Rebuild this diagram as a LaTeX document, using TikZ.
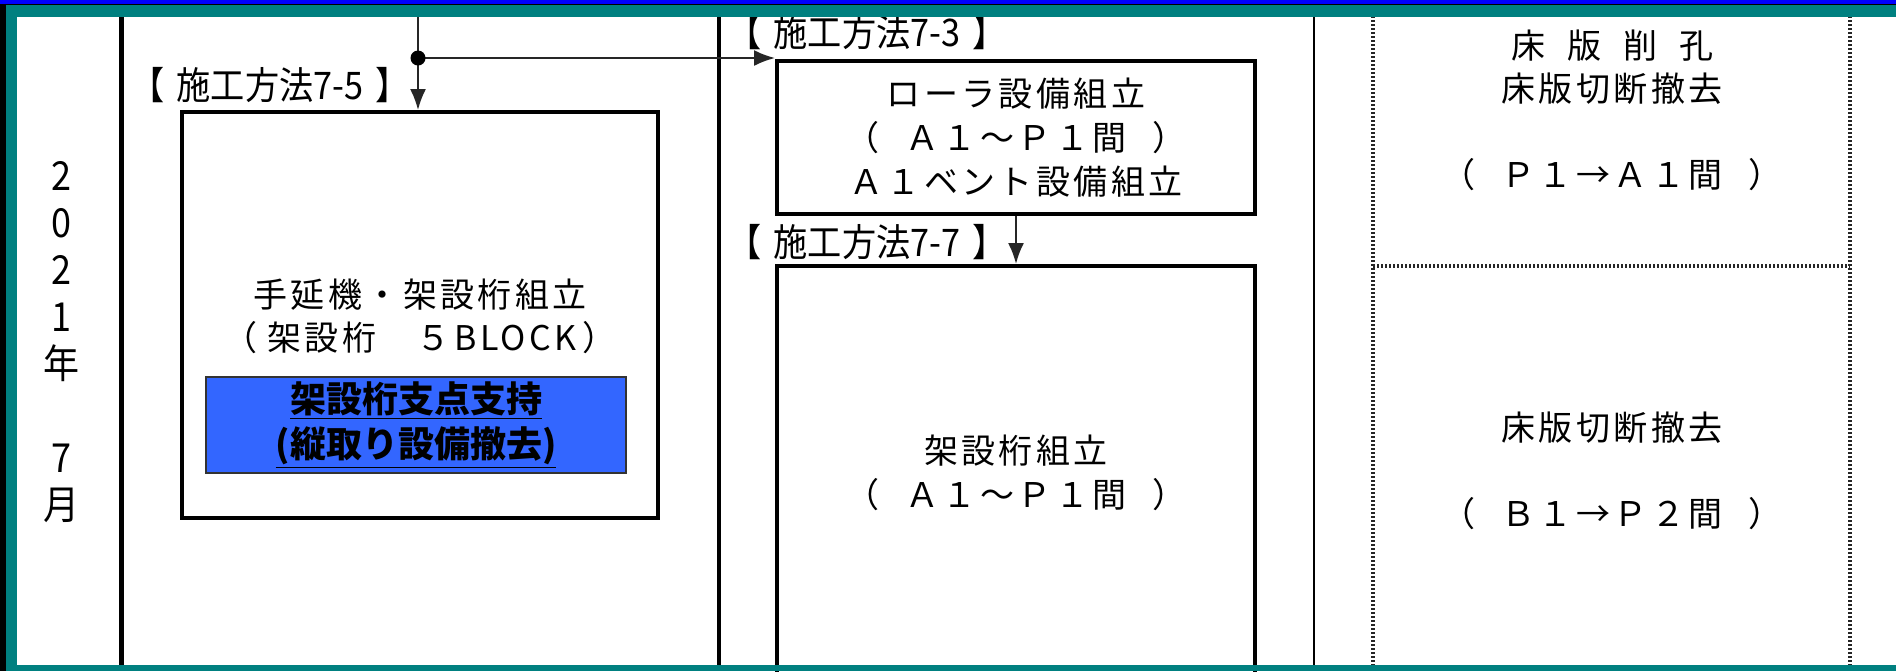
\documentclass[tikz,border=0pt]{standalone}
\usepackage{fontspec}
\setmainfont{Noto Sans CJK JP}
\newfontfamily\jpm[LetterSpace=10]{Noto Sans CJK JP}
\newfontfamily\jpc[FakeStretch=0.9]{Noto Sans CJK JP}
\usetikzlibrary{arrows.meta}
\definecolor{frameteal}{RGB}{0,128,128}
\definecolor{frameblue}{RGB}{0,0,255}
\definecolor{boxblue}{RGB}{51,102,255}
\newcommand{\mygap}{\hspace{13pt}}
\newcommand{\lblgap}{\hspace{6pt}}
\tikzset{
  stepbox/.style={draw, line width=2pt, inner sep=0pt, align=center,
    font=\jpm\fontsize{17}{22}\selectfont},
  mtxt/.style={inner sep=0pt, align=center, font=\jpm\fontsize{17}{21.5}\selectfont},
  lbl/.style={inner sep=0pt, font=\jpc\fontsize{19}{20}\selectfont},
  yeartxt/.style={inner sep=0pt, align=center, font=\jpc\fontsize{20}{23.5}\selectfont},
  bluebox/.style={draw=black!80, line width=0.75pt, fill=boxblue, inner sep=0pt,
    minimum width=210pt, minimum height=48pt, align=center,
    font=\bfseries\fontsize{18}{22.5}\selectfont},
  conn/.style={line width=1pt, black!85},
  arr/.style={conn, -{Latex[length=10.5pt,width=8pt]}},
  dotline/.style={line width=1.8pt, dash pattern=on 0.8pt off 1.2pt, black!85},
  thickline/.style={line width=2.4pt, black},
}
\begin{document}
\begin{tikzpicture}[x=0.5pt,y=-0.5pt]
\useasboundingbox (0,0) rectangle (1896,671);
\fill[white] (0,0) rectangle (1896,671);

% column lines
\coordinate (c1t) at (121.5,0); \coordinate (c1b) at (121.5,671);
\coordinate (c2t) at (719,0);   \coordinate (c2b) at (719,671);
\coordinate (c3t) at (1314,0);  \coordinate (c3b) at (1314,671);
\coordinate (d1t) at (1373,0);  \coordinate (d1b) at (1373,671);
\coordinate (d2t) at (1850,0);  \coordinate (d2b) at (1850,671);
\coordinate (dh1) at (1373,266); \coordinate (dh2) at (1850,266);
\draw[thickline] (c1t) -- (c1b);
\draw[line width=2pt] (c2t) -- (c2b);
\draw[line width=0.65pt] (c3t) -- (c3b);
\draw[dotline] (d1t) -- (d1b);
\draw[dotline] (d2t) -- (d2b);
\draw[dotline] (dh1) -- (dh2);

% year column
\node[yeartxt] (yr) at (61,342) {2\\0\\2\\1\\年\\\mbox{}\\7\\月};

% left box
\node[stepbox, minimum width=238pt, minimum height=203pt] (boxL) at (420,315) {};
\node[mtxt] (ltxt) at (420,316) {手延機・架設桁組立\\（\hspace{5pt}架設桁　５BLOCK\hspace{3pt}）};
\node[bluebox] (bb) at (416,425) {\underline{架設桁支点支持}\\\underline{(縦取り設備撤去)}};
\node[lbl] (l75) at (270,85) {【\lblgap 施工方法7-5\lblgap 】};

% right boxes
\node[stepbox, minimum width=239pt, minimum height=76.5pt] (box1) at (1016,137.5)
  {ローラ設備組立\\（\mygap Ａ１～Ｐ１間\mygap ）\\Ａ１ベント設備組立};
\node[stepbox, minimum width=239pt, minimum height=207pt] (box2) at (1016,473)
  {架設桁組立\\（\mygap Ａ１～Ｐ１間\mygap ）};
\node[lbl] (l73) at (867,32) {【\lblgap 施工方法7-3\lblgap 】};
\node[lbl] (l77) at (867,242) {【\lblgap 施工方法7-7\lblgap 】};

% right column texts
\node[mtxt] (rt1) at (1612,110)
  {床\hspace{11pt}版\hspace{11pt}削\hspace{11pt}孔\\床版切断撤去\\\mbox{}\\（\mygap Ｐ１→Ａ１間\mygap ）};
\node[mtxt] (rt2) at (1612,471)
  {床版切断撤去\\\mbox{}\\（\mygap Ｂ１→Ｐ２間\mygap ）};

% connectors
\coordinate (topL) at (418,0);
\coordinate (dot) at (418,58);
\draw[conn] (topL) -- (dot);
\draw[arr] (dot) -- (dot |- boxL.north);
\draw[arr] (dot) -- (dot -| box1.west);
\fill[black] (dot) circle[radius=3.75pt];
\draw[arr] (box1.south) -- (box2.north);

% frame
\fill[frameblue] (0,0) rectangle (1896,4);
\fill[black] (0,4) rectangle (1896,5);
\fill[frameteal] (0,5) rectangle (1896,17);
\fill[black] (0,4) rectangle (6,671);
\fill[frameteal] (6,5) rectangle (17,671);
\fill[frameteal] (6,665) rectangle (1896,671);
\end{tikzpicture}
\end{document}
